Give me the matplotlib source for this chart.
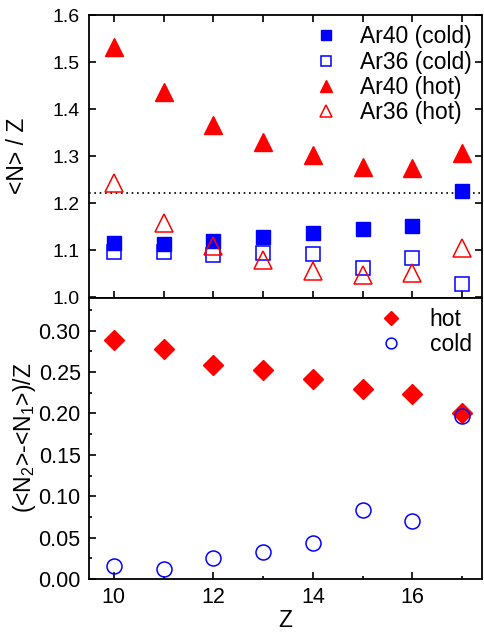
import matplotlib
matplotlib.use("Agg")
import matplotlib.pyplot as plt
from matplotlib.ticker import MultipleLocator, FormatStrFormatter

plt.rcParams['font.family'] = ['Liberation Sans', 'DejaVu Sans']
plt.rcParams['mathtext.fontset'] = 'custom'
plt.rcParams['mathtext.rm'] = 'Liberation Sans'
plt.rcParams['mathtext.it'] = 'Liberation Sans'

Z = [10, 11, 12, 13, 14, 15, 16, 17]
ar40_cold = [1.115, 1.113, 1.121, 1.128, 1.136, 1.145, 1.151, 1.226]
ar36_cold = [1.096, 1.097, 1.091, 1.094, 1.093, 1.062, 1.083, 1.028]
ar40_hot = [1.532, 1.436, 1.366, 1.330, 1.302, 1.277, 1.276, 1.306]
ar36_hot = [1.243, 1.159, 1.110, 1.079, 1.057, 1.047, 1.051, 1.105]
ref_ratio = 22 / 18

diff_hot = [0.289, 0.278, 0.259, 0.252, 0.242, 0.230, 0.224, 0.201]
diff_cold = [0.016, 0.012, 0.025, 0.033, 0.044, 0.083, 0.070, 0.197]

fig = plt.figure(figsize=(4.85, 6.34), dpi=100)
left, right = 89 / 485, 482 / 485
ax1 = fig.add_axes([left, 1 - 297.5 / 634, right - left, (297.5 - 15) / 634])
ax2 = fig.add_axes([left, 1 - 579 / 634, right - left, (579 - 297.5) / 634])

red = '#ff0000'
blue = '#0000ff'

ax1.axhline(ref_ratio, color='black', linestyle=(0, (1.0, 2.2)), linewidth=1.2, zorder=1)
ax1.plot(Z, ar40_cold, 's', color=blue, markersize=10, linestyle='none', label='Ar40 (cold)')
ax1.plot(Z, ar36_cold, 's', markerfacecolor='none', markeredgecolor=blue, markeredgewidth=1.1,
         markersize=10, linestyle='none', label='Ar36 (cold)')
ax1.plot(Z, ar40_hot, '^', color=red, markersize=12.5, linestyle='none', label='Ar40 (hot)')
ax1.plot(Z, ar36_hot, '^', markerfacecolor='none', markeredgecolor=red, markeredgewidth=1.1,
         markersize=12.5, linestyle='none', label='Ar36 (hot)')

ax2.plot(Z, diff_hot, 'D', color=red, markersize=9.7, linestyle='none', label='hot')
ax2.plot(Z, diff_cold, 'o', markerfacecolor='none', markeredgecolor=blue, markeredgewidth=1.1,
         markersize=10.8, linestyle='none', label='cold')

for ax in (ax1, ax2):
    ax.set_xlim(9.5, 17.4)
    for s in ax.spines.values():
        s.set_linewidth(1.3)

ax1.set_ylim(1.0, 1.6)
ax1.yaxis.set_major_locator(MultipleLocator(0.1))
ax1.xaxis.set_major_locator(MultipleLocator(1))
ax1.tick_params(axis='both', which='major', direction='in', length=5, width=1.2,
                top=True, right=True, labelbottom=False, labelsize=14, pad=6.5)
ax1.set_ylabel('<N> / Z', fontsize=16.5)
ax1.yaxis.set_label_coords(-0.152, 0.5)

ax2.set_ylim(0.0, 0.34)
ax2.yaxis.set_major_locator(MultipleLocator(0.05))
ax2.yaxis.set_minor_locator(MultipleLocator(0.025))
ax2.xaxis.set_major_locator(MultipleLocator(2))
ax2.xaxis.set_minor_locator(MultipleLocator(1))
ax2.yaxis.set_major_formatter(FormatStrFormatter('%.2f'))
ax2.tick_params(axis='both', which='major', direction='in', length=5, width=1.2,
                labelsize=15.5, pad=6)
ax2.tick_params(axis='both', which='minor', direction='in', length=2.5, width=1.2)
ax2.set_ylabel('(<N$_2$>-<N$_1$>)/Z', fontsize=16.5)
ax2.yaxis.set_label_coords(-0.13, 0.5)
ax2.set_xlabel('Z', fontsize=16.5)
ax2.xaxis.set_label_coords(0.5, -0.105)

leg1 = ax1.legend(loc='upper right', frameon=False, fontsize=16.5, handletextpad=0.9,
                  labelspacing=0.1, borderaxespad=0.15, markerscale=0.72, handlelength=1.2,
                  borderpad=0.3)
leg2 = ax2.legend(loc='upper right', frameon=False, fontsize=16.5, handletextpad=1.1,
                  labelspacing=0.1, borderaxespad=0.15, markerscale=0.72, handlelength=1.2,
                  borderpad=0.3)

fig.savefig('out.png', dpi=100)
